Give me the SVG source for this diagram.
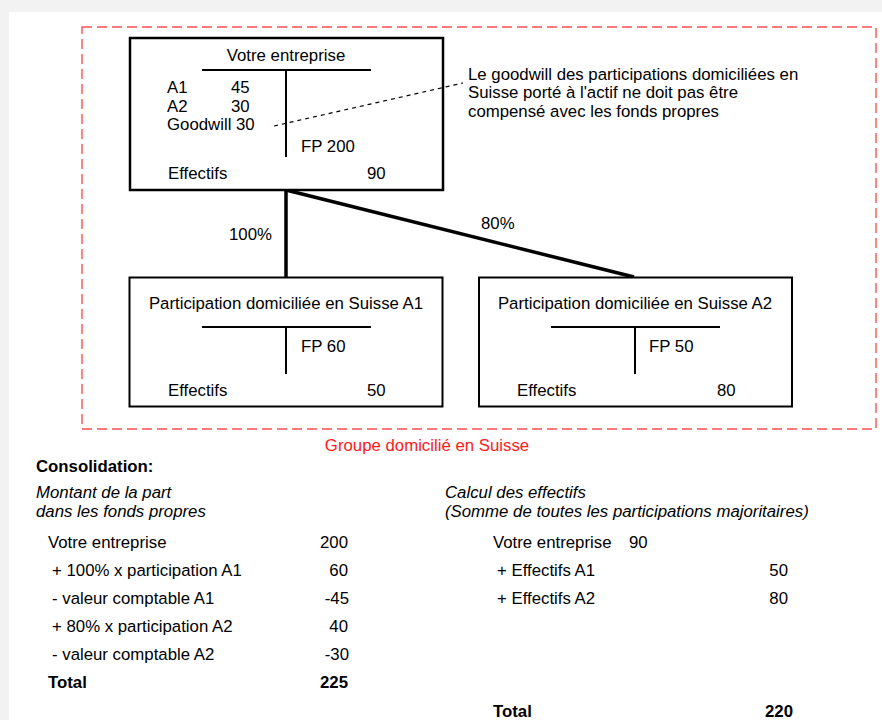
<svg xmlns="http://www.w3.org/2000/svg" width="882" height="720" viewBox="0 0 882 720">
<defs>
<style>
text{font-family:"Liberation Sans",Arial,sans-serif;font-size:16.8px;fill:#000}
.b{font-weight:bold}
.i{font-style:italic}
.r{text-anchor:end}
.m{text-anchor:middle}
.box{fill:#fff;stroke:#000}
.t{stroke:#000;stroke-width:2;fill:none}
.conn{stroke:#000;stroke-width:3.5;fill:none}
</style>
</defs>
<rect x="0" y="0" width="882" height="720" fill="#f2f2f2"/>
<rect x="9" y="12" width="873" height="708" fill="#fff"/>
<g id="group">
<rect x="82" y="27" width="794" height="402" fill="none" stroke="#ff5050" stroke-width="1.4" stroke-dasharray="10,5"/>
<text x="427" y="451" class="m" style="fill:#ff1a1a">Groupe domicilié en Suisse</text>
</g>
<g id="connectors">
<line class="conn" x1="286" y1="190" x2="286" y2="277"/>
<line class="conn" x1="286" y1="190" x2="634" y2="277" stroke-width="3"/>
<text x="229" y="240">100%</text>
<text x="481" y="229">80%</text>
</g>
<g id="node-votre-entreprise">
<rect class="box" x="130" y="38" width="313" height="152" stroke-width="2.5"/>
<text x="286" y="61" class="m">Votre entreprise</text>
<line class="t" x1="202" y1="70" x2="371" y2="70"/>
<line class="t" x1="286" y1="70" x2="286" y2="157"/>
<text x="167" y="93">A1</text><text x="231" y="93">45</text>
<text x="167" y="112">A2</text><text x="231" y="112">30</text>
<text x="167" y="130">Goodwill 30</text>
<text x="301" y="152">FP 200</text>
<text x="168" y="179">Effectifs</text>
<text x="367" y="179">90</text>
</g>
<g id="note">
<line x1="274" y1="126" x2="463" y2="83" stroke="#000" stroke-width="1.2" stroke-dasharray="4,4"/>
<text x="468" y="80">Le goodwill des participations domiciliées en</text>
<text x="468" y="98">Suisse porté à l'actif ne doit pas être</text>
<text x="468" y="117">compensé avec les fonds propres</text>
</g>
<g id="node-a1">
<rect class="box" x="129.5" y="277.5" width="313" height="129" stroke-width="2"/>
<text x="286" y="309" class="m">Participation domiciliée en Suisse A1</text>
<line class="t" x1="202" y1="327" x2="371" y2="327"/>
<line class="t" x1="286" y1="327" x2="286" y2="374"/>
<text x="301" y="352">FP 60</text>
<text x="168" y="396">Effectifs</text>
<text x="367" y="396">50</text>
</g>
<g id="node-a2">
<rect class="box" x="479" y="277.5" width="313" height="129" stroke-width="2"/>
<text x="635" y="309" class="m">Participation domiciliée en Suisse A2</text>
<line class="t" x1="551" y1="327" x2="720" y2="327"/>
<line class="t" x1="635" y1="327" x2="635" y2="374"/>
<text x="649" y="352">FP 50</text>
<text x="517" y="396">Effectifs</text>
<text x="717" y="396">80</text>
</g>
<g id="consolidation">
<text x="36" y="472" class="b">Consolidation:</text>
<text x="36" y="498" class="i">Montant de la part</text>
<text x="36" y="517" class="i">dans les fonds propres</text>
<text x="48" y="548">Votre entreprise</text><text x="348" y="548" class="r">200</text>
<text x="52" y="576">+ 100% x participation A1</text><text x="348" y="576" class="r">60</text>
<text x="52" y="604">- valeur comptable A1</text><text x="349" y="604" class="r">-45</text>
<text x="52" y="632">+ 80% x participation A2</text><text x="348" y="632" class="r">40</text>
<text x="52" y="660">- valeur comptable A2</text><text x="349" y="660" class="r">-30</text>
<text x="48" y="688" class="b">Total</text><text x="348" y="688" class="r b">225</text>
</g>
<g id="effectifs">
<text x="445" y="498" class="i">Calcul des effectifs</text>
<text x="445" y="517" class="i">(Somme de toutes les participations majoritaires)</text>
<text x="493" y="548">Votre entreprise</text><text x="629" y="548">90</text>
<text x="497" y="576">+ Effectifs A1</text><text x="788" y="576" class="r">50</text>
<text x="497" y="604">+ Effectifs A2</text><text x="788" y="604" class="r">80</text>
<text x="493" y="717" class="b">Total</text><text x="793" y="717" class="r b">220</text>
</g>
</svg>
